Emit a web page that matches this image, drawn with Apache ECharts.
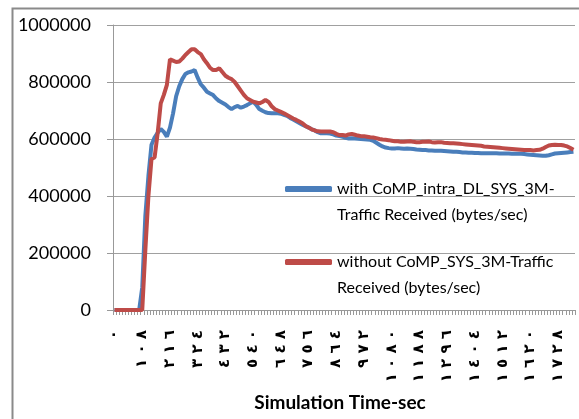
<!DOCTYPE html>
<html>
<head>
<meta charset="utf-8">
<script src="https://cdn.jsdelivr.net/npm/echarts@6/dist/echarts.min.js"></script>
<style>html,body{margin:0;padding:0;background:#fff}#c{width:579px;height:419px}</style>
</head>
<body>
<div id="c"></div>
<script>
var times = [0,12,24,36,48,60,72,84,96,108,120,132,144,156,168,180,192,204,216,228,240,252,264,276,288,300,312,324,336,348,360,372,384,396,408,420,432,444,456,468,480,492,504,516,528,540,552,564,576,588,600,612,624,636,648,660,672,684,696,708,720,732,744,756,768,780,792,804,816,828,840,852,864,876,888,900,912,924,936,948,960,972,984,996,1008,1020,1032,1044,1056,1068,1080,1092,1104,1116,1128,1140,1152,1164,1176,1188,1200,1212,1224,1236,1248,1260,1272,1284,1296,1308,1320,1332,1344,1356,1368,1380,1392,1404,1416,1428,1440,1452,1464,1476,1488,1500,1512,1524,1536,1548,1560,1572,1584,1596,1608,1620,1632,1644,1656,1668,1680,1692,1704,1716,1728,1740,1752,1764,1776,1788];

var withCoMP = [0,0,0,0,0,0,0,0,0,80000,330000,470000,580000,605000,622000,635000,625000,608000,640000,690000,
750000,785000,810000,828000,834000,837000,842000,815000,792000,780000,
766000,760000,754000,742000,733000,727000,721000,712000,705000,712000,
716000,710000,714000,719000,725000,731000,720000,705000,699000,694000,
691000,690000,690000,690000,689000,685000,681000,674000,668000,662000,
656000,650000,645000,640000,634000,630000,624000,620000,620000,620000,
619000,616000,612000,610000,608000,604000,602000,603000,602000,601000,
600000,599000,598000,597000,594000,587000,580000,574000,570000,568000,
567000,567000,568000,567000,566000,567000,566000,565000,563000,562000,
561000,561000,560000,560000,559000,559000,559000,558000,557000,556000,
555000,555000,554000,553000,553000,552000,552000,551000,551000,550000,
550000,550000,550000,550000,550000,549000,549000,549000,549000,548000,
548000,548000,548000,547000,546000,545000,544000,543000,542000,541000,
541000,543000,546000,549000,550000,551000,552000,553000,554000,555000];

var withoutCoMP = [0,0,0,0,0,0,0,0,0,0,210000,400000,530000,535000,620000,725000,755000,790000,880000,875000,
870000,872000,882000,895000,905000,915000,915000,905000,898000,880000,
866000,850000,842000,842000,848000,835000,822000,815000,810000,800000,
785000,770000,755000,743000,737000,731000,728000,725000,730000,737000,
730000,715000,705000,700000,695000,690000,684000,678000,672000,667000,
661000,655000,646000,640000,634000,630000,627000,626000,626000,626000,
626000,624000,618000,614000,614000,612000,616000,618000,615000,612000,
610000,610000,608000,606000,605000,603000,600000,598000,597000,596000,
594000,592000,592000,590000,590000,591000,592000,590000,589000,589000,
590000,590000,591000,589000,588000,589000,589000,587000,586000,585000,
585000,584000,583000,582000,581000,580000,579000,578000,577000,576000,
574000,573000,572000,571000,570000,569000,568000,567000,566000,565000,
564000,563000,562000,561000,561000,561000,560000,561000,562000,566000,
572000,577000,579000,580000,579000,579000,577000,574000,568000,562000];

var seriesNames = ['with CoMP_intra_DL_SYS_3M-\nTraffic Received (bytes/sec)', 'without CoMP_SYS_3M-Traffic\nReceived (bytes/sec)'];
var xTitle = 'Simulation Time-sec';
var arabicDigits = ['٠','١','٢','٣','٤','٥','٦','٧','٨','٩'];

function toArabic(v){
  var s = String(v).split('').map(function(d){ return arabicDigits[+d]; }).join(' ');
  return '\u202D' + s + '\u202C';
}

var FONT = 'Lato, "Liberation Sans", Arial, sans-serif';
var chart = echarts.init(document.getElementById('c'), null, {renderer:'canvas'});
var legendText = {fontFamily: FONT, fontSize: 16, color: '#000', lineHeight: 26};
function legendFmt(n){ return '\n' + n; }
chart.setOption({
  animation: false,
  backgroundColor: '#fff',
  graphic: [{type:'rect', left: 10, top: 6, shape:{width: 700, height: 600}, style:{fill:'none', stroke:'#8a8a8a', lineWidth: 2}, silent: true}],
  grid: {left: 113, right: 4, top: 25, bottom: 109, containLabel: false},
  legend: [
    {data:[seriesNames[0]], left: 285, top: 150, padding: 0, orient:'vertical', icon:'roundRect', itemWidth: 47, itemHeight: 6, itemGap: 3, formatter: legendFmt, textStyle: legendText},
    {data:[seriesNames[1]], left: 285, top: 223, padding: 0, orient:'vertical', icon:'roundRect', itemWidth: 47, itemHeight: 6, itemGap: 3, formatter: legendFmt, textStyle: legendText}
  ],
  xAxis: {
    type: 'category', data: times, boundaryGap: true,
    name: xTitle, nameLocation: 'middle', nameGap: 83,
    nameTextStyle: {fontFamily: FONT, fontSize: 19, fontWeight: 'bold', color: '#000', padding: [0, 8, 0, 0]},
    axisLine: {lineStyle: {color: '#999', width: 1}},
    axisTick: {show: true, interval: 0, length: 5, lineStyle: {color: '#999'}},
    axisLabel: {interval: 8, rotate: 90, margin: 20, fontFamily: '"DejaVu Sans", sans-serif', fontSize: 15, fontWeight: 'bold', color: '#000', formatter: function(v){ return toArabic(v); }},
    splitLine: {show: false}
  },
  yAxis: {
    type: 'value', min: 0, max: 1000000, interval: 200000,
    axisLine: {show: true, lineStyle: {color: '#999', width: 1}},
    axisTick: {show: true, length: 6, lineStyle: {color: '#999'}},
    axisLabel: {margin: 22, fontFamily: FONT, fontSize: 18, color: '#000', formatter: function(v){ return String(v); }},
    splitLine: {show: true, lineStyle: {color: '#a0a0a0', width: 1}}
  },
  series: [
    {name: seriesNames[0], type: 'line', data: withCoMP, showSymbol: false, symbol: 'none', lineStyle: {width: 4, color: '#4a7ebb'}, itemStyle: {color: '#4a7ebb'}},
    {name: seriesNames[1], type: 'line', data: withoutCoMP, showSymbol: false, symbol: 'none', lineStyle: {width: 4, color: '#be4b48'}, itemStyle: {color: '#be4b48'}}
  ]
});
</script>
</body>
</html>
